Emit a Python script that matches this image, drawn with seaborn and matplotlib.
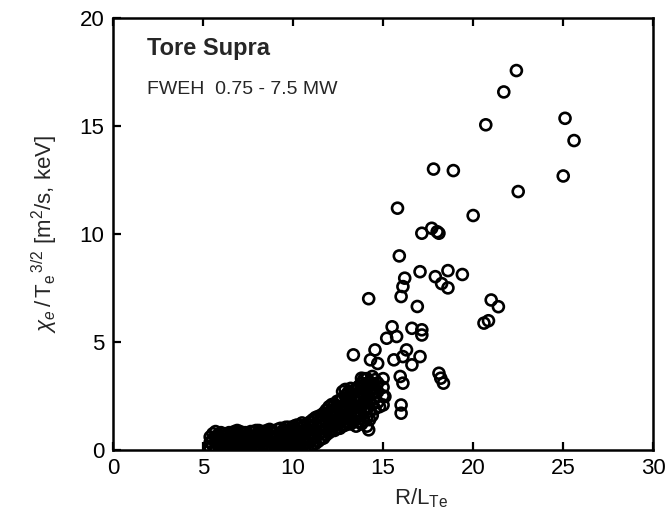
import matplotlib
matplotlib.use("Agg")
import matplotlib.pyplot as plt
import seaborn as sns
import pandas as pd

# ---- data (R/L_Te, chi_e / Te^{3/2}) ----
# dense low-gradient cluster
cluster_x = [
    5.4, 5.4, 5.4,
    5.7, 5.7, 5.7, 5.7,
    6.0, 6.0, 6.0, 6.0,
    6.3, 6.3, 6.3,
    6.6, 6.6, 6.6, 6.6,
    6.9, 6.9, 6.9, 6.9,
    7.2, 7.2, 7.2, 7.2,
    7.5, 7.5, 7.5,
    7.8, 7.8, 7.8, 7.8,
    8.1, 8.1, 8.1, 8.1,
    8.4, 8.4, 8.4, 8.4,
    8.7, 8.7, 8.7, 8.7,
    9.0, 9.0, 9.0, 9.0,
    9.3, 9.3, 9.3, 9.3,
    9.6, 9.6, 9.6, 9.6, 9.6,
    9.9, 9.9, 9.9, 9.9,
    10.2, 10.2, 10.2, 10.2, 10.2,
    10.5, 10.5, 10.5, 10.5, 10.5,
    10.8, 10.8, 10.8, 10.8, 10.8,
    11.1, 11.1, 11.1, 11.1, 11.1,
    11.4, 11.4, 11.4, 11.4, 11.4,
    11.7, 11.7, 11.7, 11.7, 11.7,
    12.0, 12.0, 12.0, 12.0, 12.0,
    12.3, 12.3, 12.3, 12.3, 12.3,
    12.6, 12.6, 12.6, 12.6, 12.6,
    12.9, 12.9, 12.9, 12.9, 12.9, 12.9,
    13.2, 13.2, 13.2, 13.2, 13.2, 13.2,
    13.5, 13.5, 13.5, 13.5, 13.5, 13.5,
    13.8, 13.8, 13.8, 13.8, 13.8, 13.8,
    14.1, 14.1, 14.1, 14.1, 14.1, 14.1,
    14.4, 14.4, 14.4, 14.4, 14.4,
    14.7, 14.7, 14.7,
    15.0, 15.0, 15.0,
    # staggered columns
    5.55, 5.55, 5.55,
    5.85, 5.85, 5.85,
    6.15, 6.15, 6.15,
    6.45, 6.45, 6.45, 6.45,
    6.75, 6.75, 6.75, 6.75,
    7.05, 7.05, 7.05, 7.05,
    7.35, 7.35, 7.35, 7.35,
    7.65, 7.65, 7.65, 7.65,
    7.95, 7.95, 7.95, 7.95,
    8.25, 8.25, 8.25, 8.25,
    8.55, 8.55, 8.55, 8.55,
    8.85, 8.85, 8.85, 8.85,
    9.15, 9.15, 9.15, 9.15,
    9.45, 9.45, 9.45, 9.45,
    9.75, 9.75, 9.75, 9.75, 9.75,
    10.05, 10.05, 10.05, 10.05, 10.05,
    10.35, 10.35, 10.35, 10.35, 10.35,
    10.65, 10.65, 10.65, 10.65, 10.65,
    10.95, 10.95, 10.95, 10.95, 10.95,
    11.25, 11.25, 11.25, 11.25, 11.25,
    11.55, 11.55, 11.55, 11.55, 11.55,
    11.85, 11.85, 11.85, 11.85, 11.85,
    12.15, 12.15, 12.15, 12.15, 12.15,
    12.45, 12.45, 12.45, 12.45, 12.45,
    12.75, 12.75, 12.75, 12.75, 12.75, 12.75,
    13.05, 13.05, 13.05, 13.05, 13.05,
    13.35, 13.35, 13.35, 13.35, 13.35,
    13.65, 13.65, 13.65, 13.65, 13.65,
    13.95, 13.95, 13.95, 13.95, 13.95, 13.95,
    14.25, 14.25, 14.25, 14.25, 14.25,
    14.55, 14.55, 14.55, 14.55,
]
cluster_y = [
    0.1, 0.35, 0.6,
    0.1, 0.35, 0.6, 0.85,
    0.05, 0.3, 0.55, 0.8,
    0.15, 0.4, 0.7,
    0.05, 0.3, 0.55, 0.8,
    0.2, 0.45, 0.75, 0.9,
    0.05, 0.3, 0.6, 0.8,
    0.15, 0.45, 0.7,
    0.05, 0.3, 0.55, 0.85,
    0.2, 0.45, 0.7, 0.9,
    0.05, 0.3, 0.6, 0.85,
    0.15, 0.4, 0.65, 0.95,
    0.05, 0.3, 0.55, 0.8,
    0.15, 0.45, 0.7, 1.0,
    0.05, 0.3, 0.6, 0.85, 1.05,
    0.2, 0.45, 0.75, 1.0,
    0.05, 0.35, 0.6, 0.9, 1.15,
    0.15, 0.45, 0.75, 1.05, 1.25,
    0.1, 0.35, 0.6, 0.9, 1.2,
    0.25, 0.5, 0.8, 1.1, 1.4,
    0.4, 0.7, 1.0, 1.3, 1.55,
    0.55, 0.85, 1.15, 1.45, 1.7,
    0.8, 1.1, 1.4, 1.7, 2.0,
    0.9, 1.2, 1.5, 1.8, 2.1,
    1.0, 1.3, 1.6, 1.95, 2.3,
    1.15, 1.45, 1.8, 2.1, 2.5, 2.8,
    1.2, 1.55, 1.9, 2.25, 2.6, 2.85,
    1.1, 1.5, 1.8, 2.2, 2.5, 2.8,
    1.2, 1.6, 2.0, 2.35, 2.7, 3.1,
    1.1, 1.5, 1.9, 2.3, 2.9, 3.3,
    1.6, 2.1, 2.6, 3.0, 3.4,
    2.2, 2.7, 3.1,
    2.5, 2.9, 3.3,
    # staggered columns
    0.2, 0.5, 0.75,
    0.2, 0.45, 0.7,
    0.15, 0.45, 0.75,
    0.1, 0.3, 0.55, 0.8,
    0.1, 0.4, 0.65, 0.85,
    0.1, 0.35, 0.6, 0.85,
    0.1, 0.35, 0.6, 0.8,
    0.1, 0.35, 0.6, 0.85,
    0.1, 0.4, 0.65, 0.9,
    0.1, 0.35, 0.6, 0.85,
    0.1, 0.45, 0.75, 0.9,
    0.1, 0.35, 0.6, 0.85,
    0.1, 0.4, 0.65, 0.95,
    0.1, 0.35, 0.6, 0.9,
    0.1, 0.35, 0.65, 0.9, 1.05,
    0.1, 0.4, 0.7, 0.95, 1.1,
    0.1, 0.3, 0.55, 0.85, 1.15,
    0.1, 0.3, 0.6, 0.9, 1.15,
    0.1, 0.45, 0.75, 1.05, 1.3,
    0.3, 0.6, 0.9, 1.2, 1.5,
    0.5, 0.8, 1.1, 1.35, 1.6,
    0.7, 1.0, 1.3, 1.6, 1.85,
    0.9, 1.25, 1.55, 1.85, 2.1,
    1.0, 1.35, 1.7, 2.0, 2.25,
    1.1, 1.45, 1.75, 2.05, 2.4, 2.7,
    1.25, 1.6, 1.95, 2.3, 2.65,
    1.3, 1.7, 2.05, 2.4, 2.75,
    1.3, 1.65, 2.0, 2.4, 2.95,
    1.35, 1.8, 2.15, 2.55, 3.0, 3.3,
    1.4, 1.8, 2.2, 2.7, 3.15,
    1.9, 2.4, 2.85, 3.25,
]
# scattered points at higher gradient
outer_x = [14.2, 15.0, 16.0, 16.0, 15.95, 16.1, 18.1, 18.35, 18.2,
           13.35, 14.55, 14.3, 14.7, 16.3, 16.1, 17.05, 16.6, 15.6,
           13.8, 13.5, 14.1, 15.1, 14.8,
           15.5, 15.2, 15.75, 16.6, 17.15, 17.15,
           14.2, 16.0, 16.1, 16.2, 16.9, 15.9,
           17.05, 17.9, 18.6, 19.4, 18.25, 18.6,
           21.0, 21.4, 20.85, 20.6,
           15.8, 17.15, 17.7, 18.1, 18.0,
           20.0, 17.8, 18.9, 22.5, 25.0, 25.6, 25.1, 20.7, 21.7, 22.4]
outer_y = [0.93, 2.08, 2.08, 1.7, 3.4, 3.09, 3.55, 3.09, 3.32,
           4.4, 4.63, 4.17, 4.0, 4.63, 4.32, 4.32, 3.94, 4.17,
           3.32, 2.78, 2.47, 2.47, 2.0,
           5.7, 5.17, 5.25, 5.63, 5.56, 5.32,
           7.0, 7.1, 7.56, 7.95, 6.64, 8.98,
           8.25, 8.02, 8.3, 8.12, 7.7, 7.5,
           6.94, 6.63, 5.98, 5.87,
           11.19, 10.03, 10.26, 10.03, 10.1,
           10.85, 13.0, 12.93, 11.96, 12.68, 14.32, 15.35, 15.05, 16.57, 17.56]

x_vals = cluster_x + outer_x
y_vals = cluster_y + outer_y

x_ticks = [0, 5, 10, 15, 20, 25, 30]
y_ticks = [0, 5, 10, 15, 20]

df = pd.DataFrame({"R/L_Te": x_vals, "chi": y_vals})

sns.set_theme(style="ticks")
plt.rcParams["font.family"] = ["Liberation Sans", "DejaVu Sans"]
plt.rcParams["mathtext.fontset"] = "custom"
plt.rcParams["mathtext.rm"] = "Liberation Sans"
plt.rcParams["mathtext.it"] = "Liberation Sans:italic"
plt.rcParams["mathtext.bf"] = "Liberation Sans:bold"

fig = plt.figure(figsize=(6.68, 5.25), dpi=100)
ax = fig.add_axes([0.169, 0.143, 0.809, 0.823])

sns.scatterplot(data=df, x="R/L_Te", y="chi", ax=ax, marker="o", s=62,
                facecolor="none", edgecolor="black", linewidth=1.9,
                legend=False)

ax.set_xlim(0, 30)
ax.set_ylim(0, 20)
ax.set_xticks(x_ticks)
ax.set_yticks(y_ticks)
ax.tick_params(direction="in", length=6, width=1.6, labelsize=16,
               top=True, right=False, colors="black", pad=6)
for sp in ax.spines.values():
    sp.set_visible(True)
    sp.set_linewidth(1.8)
    sp.set_color("black")

ax.set_xlabel(r"R/L$_{\mathrm{Te}}$", fontsize=16, labelpad=2)
ax.xaxis.set_label_coords(0.57, -0.085)
ax.set_ylabel(r"$\chi_e\,/\,\mathrm{T_e}^{\,3/2}$ [m$^2$/s, keV]", fontsize=16,
              labelpad=14)

ax.text(0.063, 0.93, "Tore Supra", transform=ax.transAxes, fontsize=17,
        fontweight="bold", va="center", ha="left")
ax.text(0.063, 0.835, "FWEH  0.75 - 7.5 MW", transform=ax.transAxes,
        fontsize=14, va="center", ha="left")

fig.savefig("out.png", dpi=100)
